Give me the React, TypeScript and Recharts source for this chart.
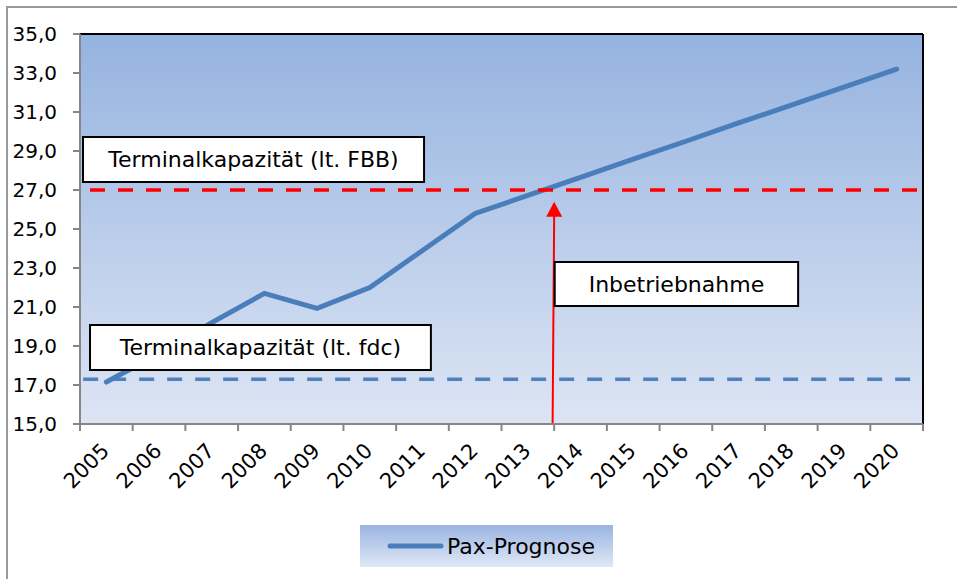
import React from 'react'
import { LineChart, Line, XAxis, YAxis, CartesianGrid, ReferenceLine, ReferenceArea, Legend } from 'recharts'

const years = [2005, 2006, 2007, 2008, 2009, 2010, 2011, 2012, 2013, 2014, 2015, 2016, 2017, 2018, 2019, 2020]
const paxPrognose = [17.15, 18.6, 20.2, 21.7, 20.93, 22.0, 23.9, 25.8, 26.72, 27.65, 28.58, 29.5, 30.44, 31.35, 32.28, 33.2]
const yTicks = [15, 17, 19, 21, 23, 25, 27, 29, 31, 33, 35]
const boundaryTicks = [2004.5, 2005.5, 2006.5, 2007.5, 2008.5, 2009.5, 2010.5, 2011.5, 2012.5, 2013.5, 2014.5, 2015.5, 2016.5, 2017.5, 2018.5, 2019.5, 2020.5]
const capacityFbb = 27.0
const capacityFdc = 17.3
const startYear = 2013.5

const FONT = '"DejaVu Sans", Verdana, sans-serif'

const data = years.map((year, i) => ({ year, pax: paxPrognose[i] }))

const YearTick = ({ x, y, payload }: any) => {
  const tx = x + 4
  const ty = y + 12
  return (
    <text x={tx} y={ty} transform={`rotate(-45, ${tx}, ${ty})`} textAnchor="end" fontSize={21} fontFamily={FONT} fill="#000">
      {payload.value}
    </text>
  )
}

const Arrow = (p: any) => {
  const { x1, y1, x2, y2 } = p
  return (
    <g>
      <line x1={x1} y1={y1} x2={x2} y2={y2 + 12} stroke="#ff0000" strokeWidth={2} />
      <polygon points={`${x2},${y2} ${x2 - 8},${y2 + 15} ${x2 + 8},${y2 + 15}`} fill="#ff0000" />
    </g>
  )
}

const LegendBox = () => (
  <div
    style={{
      width: 253,
      height: 42,
      background: 'linear-gradient(#9ab4e1, #e0e8f5)',
      display: 'flex',
      alignItems: 'center',
      fontFamily: FONT,
      fontSize: 22,
      color: '#000',
    }}
  >
    <svg width={87} height={42}>
      <line x1={30} y1={21} x2={81} y2={21} stroke="#4a7ebb" strokeWidth={5} strokeLinecap="round" />
    </svg>
    <span>Pax-Prognose</span>
  </div>
)

const boxProps: any = { xAxisId: 'b_years', fill: '#fff', fillOpacity: 1, stroke: '#000', strokeWidth: 2, ifOverflow: 'visible', zIndex: 1500 }
const boxLabel = (value: string) => ({ value, position: 'center' as const, fill: '#000', fontSize: 22, fontFamily: FONT })

export default function App() {
  return (
    <div style={{ position: 'absolute', left: 6, top: 6, width: 949, height: 571, borderTop: '2px solid #9a9a9a', borderLeft: '2px solid #9a9a9a', background: '#fff' }}>
      <LineChart width={943} height={565} data={data} margin={{ top: 26, right: 28, left: 0, bottom: 10 }}>
        <defs>
          <linearGradient id="plotBg" x1="0" y1="0" x2="0" y2="1">
            <stop offset="0%" stopColor="#95b3e0" />
            <stop offset="100%" stopColor="#dde5f4" />
          </linearGradient>
        </defs>
        <CartesianGrid horizontal={false} vertical={false} fill="url(#plotBg)" xAxisId="b_years" />
        <XAxis
          xAxisId="b_years"
          type="number"
          dataKey="year"
          domain={[2004.5, 2020.5]}
          ticks={years}
          interval={0}
          height={131}
          tick={<YearTick />}
          tickLine={false}
          axisLine={false}
        />
        <XAxis
          xAxisId="a_marks"
          type="number"
          dataKey="year"
          domain={[2004.5, 2020.5]}
          ticks={boundaryTicks}
          interval={0}
          height={8}
          tick={() => <g />}
          tickSize={7}
          tickLine={{ stroke: '#868686', strokeWidth: 2 }}
          axisLine={{ stroke: '#868686', strokeWidth: 2 }}
        />
        <YAxis
          type="number"
          domain={[15, 35]}
          ticks={yTicks}
          interval={0}
          width={72}
          tickSize={7}
          tickMargin={16}
          tickFormatter={(v: number) => v.toFixed(1).replace('.', ',')}
          tick={{ fill: '#000', fontSize: 20, fontFamily: FONT }}
          tickLine={{ stroke: '#868686', strokeWidth: 2 }}
          axisLine={{ stroke: '#868686', strokeWidth: 2 }}
        />
        <ReferenceLine xAxisId="b_years" y={35} stroke="#000" strokeWidth={2} />
        <ReferenceLine xAxisId="b_years" x={2020.5} stroke="#000" strokeWidth={2} />
        <ReferenceLine
          xAxisId="b_years"
          segment={[{ x: 2004.56, y: capacityFdc }, { x: 2020.29, y: capacityFdc }]}
          stroke="#4f81bd"
          strokeWidth={3.5}
          strokeDasharray="15 13"
        />
        <Line xAxisId="b_years" type="linear" dataKey="pax" name="Pax-Prognose" stroke="#4a7ebb" strokeWidth={5} strokeLinecap="round" dot={false} isAnimationActive={false} />
        <ReferenceLine
          xAxisId="b_years"
          segment={[{ x: 2004.69, y: capacityFbb }, { x: 2020.4, y: capacityFbb }]}
          stroke="#ff0000"
          strokeWidth={3.5}
          strokeDasharray="15 13"
        />
        <ReferenceLine xAxisId="b_years" segment={[{ x: startYear - 0.03, y: 15 }, { x: startYear, y: 26.4 }]} shape={<Arrow />} />
        <ReferenceArea {...boxProps} x1={2004.557} x2={2011.03} y1={27.41} y2={29.72} label={boxLabel('Terminalkapazität (lt. FBB)')} />
        <ReferenceArea {...boxProps} x1={2004.69} x2={2011.16} y1={17.77} y2={20.08} label={boxLabel('Terminalkapazität (lt. fdc)')} />
        <ReferenceArea {...boxProps} x1={2013.51} x2={2018.13} y1={21.05} y2={23.31} label={boxLabel('Inbetriebnahme')} />
        <Legend verticalAlign="middle" layout="horizontal" content={<LegendBox />} wrapperStyle={{ left: 352, top: 517, width: 253, height: 42 }} />
      </LineChart>
    </div>
  )
}
